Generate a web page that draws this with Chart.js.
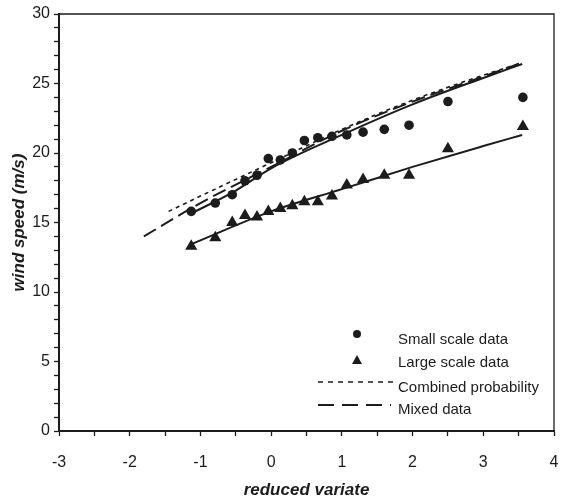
<!DOCTYPE html>
<html>
<head>
<meta charset="utf-8">
<script src="https://cdn.jsdelivr.net/npm/chart.js@4"></script>
<style>
  html, body { margin: 0; padding: 0; background: #fff; }
  #wrap { width: 567px; height: 503px; }
</style>
</head>
<body>
<div id="wrap"><canvas id="windChart" width="567" height="503"></canvas></div>
<script>
// reduced variate positions shared by both samples
const variate = [-1.13, -0.79, -0.55, -0.37, -0.2, -0.04, 0.13, 0.3, 0.47, 0.66, 0.86, 1.07, 1.3, 1.6, 1.95, 2.5, 3.56];
const smallScale = [15.8, 16.4, 17.0, 18.0, 18.4, 19.6, 19.5, 20.0, 20.9, 21.1, 21.2, 21.3, 21.5, 21.7, 22.0, 23.7, 24.0];
const largeScale = [13.3, 13.9, 15.0, 15.5, 15.4, 15.8, 16.0, 16.2, 16.5, 16.5, 16.9, 17.7, 18.1, 18.4, 18.4, 20.3, 21.9];

// fitted curves
const smallFitX = [-1.15, -0.5, 0, 1, 2, 3, 3.55];
const smallFitY = [15.6, 17.3, 18.9, 21.3, 23.5, 25.4, 26.4];
const largeFitX = [-1.15, 0, 1, 2, 3, 3.55];
const largeFitY = [13.4, 15.8, 17.4, 19.0, 20.5, 21.3];
const combinedX = [-1.45, -1, 0, 1, 2, 3, 3.55];
const combinedY = [15.8, 16.9, 19.3, 21.7, 23.8, 25.6, 26.5];
const mixedX = [-1.8, -1, 0, 1, 2, 3, 3.55];
const mixedY = [14.0, 16.4, 19.0, 21.6, 23.7, 25.5, 26.5];

const legendLabels = ['Small scale data', 'Large scale data', 'Combined probability', 'Mixed data'];

const ink = '#1c1c1c';
const FONT = '"Liberation Sans", Arial, sans-serif';
const pts = (xs, ys) => xs.map((x, i) => ({x: x, y: ys[i]}));

// box around the plot + legend in the lower right
const frame = {
    id: 'frame',
    afterDraw(chart) {
        const {ctx, chartArea: a} = chart;
        ctx.save();
        ctx.strokeStyle = ink;
        ctx.lineWidth = 1.3;
        ctx.beginPath();
        ctx.moveTo(a.left, a.top);
        ctx.lineTo(a.right, a.top);
        ctx.lineTo(a.right, a.bottom);
        ctx.stroke();

        const mx = 357, tx = 398;
        const rows = [340, 363, 388, 410];
        ctx.fillStyle = ink;
        ctx.beginPath();
        ctx.arc(mx, 334, 4, 0, Math.PI * 2);
        ctx.fill();
        ctx.beginPath();
        ctx.moveTo(mx, 355);
        ctx.lineTo(mx + 5, 364);
        ctx.lineTo(mx - 5, 364);
        ctx.closePath();
        ctx.fill();

        ctx.lineWidth = 1.5;
        ctx.setLineDash([5, 5]);
        ctx.beginPath();
        ctx.moveTo(318, 382);
        ctx.lineTo(394, 382);
        ctx.stroke();
        ctx.lineWidth = 2;
        ctx.setLineDash([16, 8]);
        ctx.beginPath();
        ctx.moveTo(318, 405);
        ctx.lineTo(391, 405);
        ctx.stroke();
        ctx.setLineDash([]);

        ctx.font = '15px ' + FONT;
        ctx.textBaseline = 'middle';
        legendLabels.forEach((t, i) => ctx.fillText(t, tx, rows[i]));
        ctx.restore();
    }
};

new Chart(document.getElementById('windChart'), {
    type: 'scatter',
    data: {
        datasets: [
            {
                label: legendLabels[0],
                data: pts(variate, smallScale),
                pointStyle: 'circle',
                pointRadius: 4.8,
                backgroundColor: ink,
                borderColor: ink,
                borderWidth: 0
            },
            {
                label: legendLabels[1],
                data: pts(variate, largeScale),
                pointStyle: 'triangle',
                pointRadius: 7,
                backgroundColor: ink,
                borderColor: ink,
                borderWidth: 0
            },
            {
                label: 'small fit',
                data: pts(smallFitX, smallFitY),
                showLine: true,
                pointRadius: 0,
                borderColor: ink,
                borderWidth: 2,
                cubicInterpolationMode: 'monotone'
            },
            {
                label: 'large fit',
                data: pts(largeFitX, largeFitY),
                showLine: true,
                pointRadius: 0,
                borderColor: ink,
                borderWidth: 2,
                cubicInterpolationMode: 'monotone'
            },
            {
                label: legendLabels[2],
                data: pts(combinedX, combinedY),
                showLine: true,
                pointRadius: 0,
                borderColor: ink,
                borderWidth: 1.6,
                borderDash: [4, 4],
                cubicInterpolationMode: 'monotone'
            },
            {
                label: legendLabels[3],
                data: pts(mixedX, mixedY),
                showLine: true,
                pointRadius: 0,
                borderColor: ink,
                borderWidth: 2,
                borderDash: [14, 6],
                cubicInterpolationMode: 'monotone'
            }
        ]
    },
    options: {
        responsive: false,
        animation: false,
        layout: { padding: { top: 14, right: 13 } },
        plugins: {
            legend: { display: false },
            tooltip: { enabled: false }
        },
        scales: {
            x: {
                type: 'linear',
                min: -3,
                max: 4,
                afterFit: (s) => { s.height = 72; s.paddingLeft = 0; s.paddingRight = 0; },
                border: { color: ink, width: 2 },
                grid: { drawOnChartArea: false, tickLength: 5, color: ink, tickWidth: 1.3 },
                ticks: {
                    stepSize: 0.5,
                    autoSkip: false,
                    maxRotation: 0,
                    color: ink,
                    padding: 17,
                    font: { family: FONT, size: 16 },
                    callback: (v) => Number.isInteger(v) ? v : ''
                },
                title: {
                    display: true,
                    text: 'reduced variate',
                    color: ink,
                    padding: { top: 4, bottom: 2 },
                    font: { family: FONT, size: 17, style: 'italic', weight: 'bold' }
                }
            },
            y: {
                min: 0,
                max: 30,
                afterFit: (s) => { s.width = 59; },
                border: { color: ink, width: 2 },
                grid: { drawOnChartArea: false, tickLength: 5, color: ink, tickWidth: 1.3 },
                ticks: {
                    stepSize: 1,
                    autoSkip: false,
                    color: ink,
                    padding: 4,
                    font: { family: FONT, size: 16 },
                    callback: (v) => v % 5 === 0 ? v : ''
                },
                title: {
                    display: true,
                    text: 'wind speed (m/s)',
                    color: ink,
                    padding: { top: 9 },
                    font: { family: FONT, size: 17, style: 'italic', weight: 'bold' }
                }
            }
        }
    },
    plugins: [frame]
});
</script>
</body>
</html>
